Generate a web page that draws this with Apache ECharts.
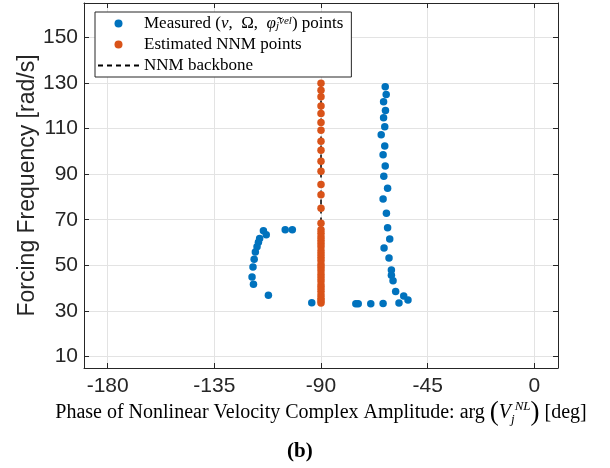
<!DOCTYPE html>
<html><head><meta charset="utf-8">
<script src="https://cdn.jsdelivr.net/npm/echarts@6/dist/echarts.min.js"></script>
<style>html,body{margin:0;padding:0;background:#fff}#c{width:610px;height:468px}</style>
</head><body><div id="c"></div>
<script>
const xTicks = [-180, -135, -90, -45, 0];
const yTicks = [10, 30, 50, 70, 90, 110, 130, 150];
const measuredPhase = [-114.3, -113.1, -115.9, -116.4, -117.0, -117.7, -118.2, -118.7, -119.1, -118.5, -112.2, -105.1, -102.1, -93.9,
  -62.9, -62.5, -63.6, -62.8, -63.6, -63.1, -64.6, -63.1, -63.8, -62.9, -63.5, -61.9, -63.8, -62.4, -61.9, -61.0, -63.4, -61.3, -60.3, -60.3, -59.6, -58.5, -55.1, -53.3, -57.1, -63.8, -69.0, -74.3, -75.3];
const measuredFreq = [65.2, 63.4, 61.8, 60.1, 58.1, 55.9, 52.7, 49.3, 44.9, 41.7, 36.9, 65.6, 65.6, 33.6,
  128.3, 124.9, 121.7, 117.9, 114.7, 110.7, 107.3, 102.3, 98.5, 93.5, 89.1, 83.8, 79.1, 72.8, 66.5, 61.5, 57.6, 53.2, 48.0, 45.7, 43.2, 38.5, 36.6, 34.8, 33.5, 33.3, 33.2, 33.2, 33.2];
const estFreq = [129.8, 126.8, 123.9, 119.9, 116.6, 112.6, 109.2, 104.4, 100.4, 95.6, 91.3, 85.4, 80.9, 75.0, 68.4,
  65.6, 64.1, 62.4, 61.0, 59.6, 58.1, 56.4, 55.0, 53.6, 52.1, 50.4, 49.1, 47.6, 46.0, 44.6, 43.1, 41.4, 40.1, 38.6, 37.0, 35.6, 34.5, 33.5];
const estPhase = estFreq.map(() => -90);
const backboneFreq = [33.3, 130.0];
const backbonePhase = [-90, -90];

const serif = 'Liberation Serif';
const sans = 'Liberation Sans';
const zip = (a, b) => a.map((v, i) => [v, b[i]]);

const chart = echarts.init(document.getElementById('c'));
const frame = '#262626';
const baseX = {
  type: 'value', min: -190, max: 10,
  axisLine: {show: true, onZero: false, lineStyle: {color: frame, width: 1}},
  axisTick: {show: true, inside: true, length: 5, customValues: xTicks, lineStyle: {color: frame}},
};
const baseY = {
  type: 'value', min: 5, max: 165,
  axisLine: {show: true, onZero: false, lineStyle: {color: frame, width: 1}},
  axisTick: {show: true, inside: true, length: 5, customValues: yTicks, lineStyle: {color: frame}},
};
const lf = 17;
const legendRich = {
  r: {fontFamily: serif, fontSize: lf, color: '#000', lineHeight: 16},
  i: {fontFamily: serif, fontSize: lf, fontStyle: 'italic', color: '#000', lineHeight: 16},
  sup: {fontFamily: serif, fontSize: 11, fontStyle: 'italic', color: '#000', verticalAlign: 'top', lineHeight: 10},
  sub: {fontFamily: serif, fontSize: 11, fontStyle: 'italic', color: '#000', verticalAlign: 'bottom', lineHeight: 10}
};
chart.setOption({
  animation: false,
  backgroundColor: '#fff',
  grid: {left: 84, right: 52, top: 3, bottom: 100, containLabel: false},
  xAxis: [
    Object.assign({}, baseX, {
      position: 'bottom',
      axisLabel: {customValues: xTicks, fontFamily: sans, fontSize: 21, color: '#262626', margin: 8},
      splitLine: {show: true, lineStyle: {color: '#e3e3e3', width: 1}},
      name: '{t|Phase of Nonlinear Velocity Complex Amplitude: arg }{p|(}{v|V}{s|j}{u|NL}{p|)}{t| [deg]}',
      nameLocation: 'middle', nameGap: 32, nameMoveOverlap: false,
      nameTextStyle: {
        rich: {
          t: {fontFamily: serif, fontSize: 20, color: '#000', lineHeight: 26},
          p: {fontFamily: serif, fontSize: 27, color: '#000', lineHeight: 26},
          v: {fontFamily: serif, fontSize: 20, fontStyle: 'italic', color: '#000', lineHeight: 26},
          s: {fontFamily: serif, fontSize: 13, fontStyle: 'italic', color: '#000', verticalAlign: 'bottom', lineHeight: 13},
          u: {fontFamily: serif, fontSize: 13, fontStyle: 'italic', color: '#000', verticalAlign: 'top', lineHeight: 13}
        }
      }
    }),
    Object.assign({}, baseX, {position: 'top', axisLabel: {show: false}, splitLine: {show: false}})
  ],
  yAxis: [
    Object.assign({}, baseY, {
      position: 'left',
      axisLabel: {customValues: yTicks, fontFamily: sans, fontSize: 21, color: '#262626', margin: 6},
      splitLine: {show: true, lineStyle: {color: '#e3e3e3', width: 1}},
      name: 'Forcing Frequency [rad/s]', nameLocation: 'middle', nameGap: 45, nameMoveOverlap: false,
      nameTextStyle: {fontFamily: sans, fontSize: 23, color: '#262626'}
    }),
    Object.assign({}, baseY, {position: 'right', axisLabel: {show: false}, splitLine: {show: false}})
  ],
  legend: {
    orient: 'vertical', left: 95, top: 12,
    padding: [3, 8, 3, 2],
    itemGap: 4, itemWidth: 41, itemHeight: 8,
    backgroundColor: '#fff', borderColor: frame, borderWidth: 1, borderRadius: 0,
    data: [
      {name: 'Measured', icon: 'circle'},
      {name: 'Estimated NNM points', icon: 'circle'},
      {name: 'NNM backbone', itemStyle: {opacity: 0}}
    ],
    formatter: function (name) {
      if (name === 'Measured') return '{r|Measured (}{i|v}{r|,  Ω,  }{i|φ̃}{sub|j}{sup|vel}{r|) points}';
      return '{r|' + name + '}';
    },
    textStyle: {rich: legendRich, fontFamily: serif, fontSize: lf, color: '#000'}
  },
  series: [
    {
      name: 'Measured', type: 'scatter', data: zip(measuredPhase, measuredFreq),
      symbolSize: 7.5, itemStyle: {color: '#0072BD', opacity: 1}, z: 3
    },
    {
      name: 'Estimated NNM points', type: 'scatter', data: zip(estPhase, estFreq),
      symbolSize: 7.5, itemStyle: {color: '#D95319', opacity: 1}, z: 4
    },
    {
      name: 'NNM backbone', type: 'line', data: zip(backbonePhase, backboneFreq),
      symbol: 'none', lineStyle: {color: '#000', width: 1.5, type: [5, 4]}, itemStyle: {color: '#000'}, z: 2
    }
  ],
  graphic: [
    {type: 'text', left: 287, top: 441, style: {text: '(b)', fontFamily: serif, fontSize: 21, fontWeight: 'bold', fill: '#000'}}
  ]
});
</script></body></html>
